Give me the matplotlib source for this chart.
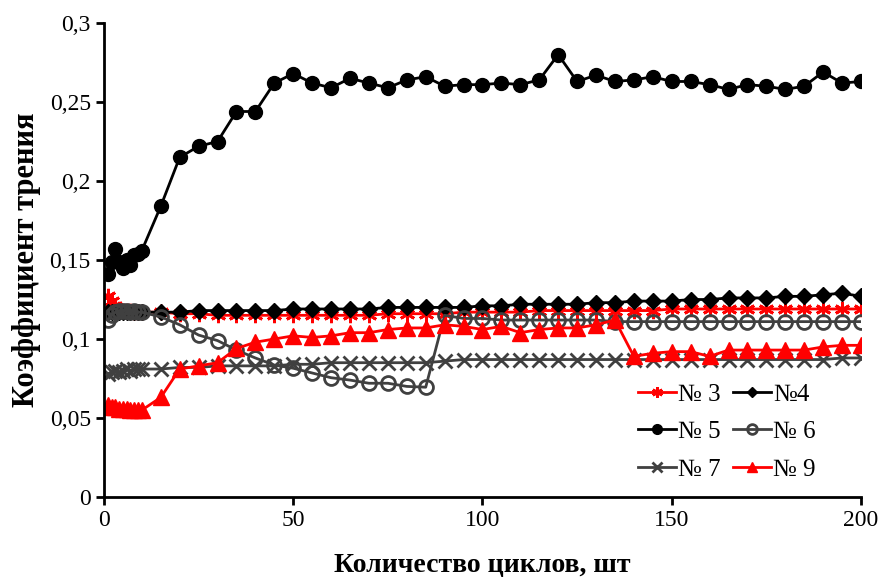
import matplotlib
matplotlib.use('Agg')
import matplotlib.pyplot as plt

plt.rcParams['font.family'] = ['Liberation Serif', 'DejaVu Serif']

# cycle numbers (x axis)
cycles = [1, 2, 3, 4, 5, 6, 7, 8, 9, 10,
          15, 20, 25, 30, 35, 40, 45, 50, 55, 60,
          65, 70, 75, 80, 85, 90, 95, 100, 105, 110,
          115, 120, 125, 130, 135, 140, 145, 150, 155, 160,
          165, 170, 175, 180, 185, 190, 195, 200]

# friction coefficient for each sample
s3 = [0.127, 0.124, 0.121, 0.119, 0.118, 0.118, 0.118, 0.117, 0.117, 0.117,
      0.117, 0.116, 0.116, 0.115, 0.115, 0.115, 0.115, 0.115, 0.115, 0.115,
      0.115, 0.115, 0.116, 0.116, 0.116, 0.116, 0.117, 0.117, 0.117, 0.117,
      0.118, 0.118, 0.118, 0.118, 0.118, 0.118, 0.118, 0.119, 0.119, 0.119,
      0.119, 0.119, 0.119, 0.119, 0.119, 0.119, 0.119, 0.119]
s4 = [0.117, 0.117, 0.117, 0.117, 0.117, 0.117, 0.117, 0.117, 0.117, 0.117,
      0.117, 0.117, 0.118, 0.118, 0.118, 0.118, 0.118, 0.119, 0.119, 0.119,
      0.119, 0.119, 0.120, 0.120, 0.120, 0.120, 0.120, 0.121, 0.121, 0.122,
      0.122, 0.122, 0.122, 0.123, 0.123, 0.124, 0.124, 0.124, 0.125, 0.125,
      0.126, 0.126, 0.126, 0.127, 0.127, 0.128, 0.129, 0.127]
s5 = [0.141, 0.149, 0.157, 0.149, 0.145, 0.150, 0.147, 0.153, 0.154, 0.156,
      0.184, 0.215, 0.222, 0.225, 0.244, 0.244, 0.262, 0.268, 0.262, 0.259,
      0.265, 0.262, 0.259, 0.264, 0.266, 0.260, 0.261, 0.261, 0.262, 0.261,
      0.264, 0.280, 0.263, 0.267, 0.263, 0.264, 0.266, 0.263, 0.263, 0.261,
      0.258, 0.261, 0.260, 0.258, 0.260, 0.269, 0.262, 0.263]
s6 = [0.112, 0.115, 0.117, 0.118, 0.118, 0.118, 0.117, 0.118, 0.117, 0.117,
      0.114, 0.109, 0.1025, 0.099, 0.093, 0.088, 0.0835, 0.0815, 0.0785, 0.0755,
      0.074, 0.072, 0.072, 0.070, 0.0695, 0.115, 0.113, 0.113, 0.112, 0.112,
      0.112, 0.112, 0.112, 0.112, 0.111, 0.111, 0.111, 0.111, 0.111, 0.111,
      0.111, 0.111, 0.111, 0.111, 0.111, 0.111, 0.111, 0.111]
s7 = [0.078, 0.079, 0.080, 0.079, 0.080, 0.081, 0.080, 0.081, 0.081, 0.081,
      0.081, 0.082, 0.082, 0.083, 0.083, 0.083, 0.083, 0.084, 0.084, 0.085,
      0.085, 0.085, 0.085, 0.085, 0.085, 0.086, 0.087, 0.087, 0.087, 0.087,
      0.087, 0.087, 0.087, 0.087, 0.087, 0.087, 0.087, 0.087, 0.087, 0.087,
      0.087, 0.087, 0.087, 0.087, 0.087, 0.087, 0.088, 0.088]
s9 = [0.058, 0.057, 0.057, 0.056, 0.056, 0.056, 0.055, 0.055, 0.055, 0.055,
      0.063, 0.081, 0.083, 0.085, 0.094, 0.098, 0.100, 0.102, 0.101, 0.102,
      0.104, 0.104, 0.106, 0.107, 0.107, 0.109, 0.108, 0.106, 0.108, 0.104,
      0.106, 0.107, 0.107, 0.109, 0.112, 0.089, 0.091, 0.092, 0.092, 0.089,
      0.093, 0.093, 0.093, 0.093, 0.093, 0.095, 0.096, 0.096]

y_ticks = [0, 0.05, 0.1, 0.15, 0.2, 0.25, 0.3]
y_labels = ['0', '0,05', '0,1', '0,15', '0,2', '0,25', '0,3']
x_ticks = [0, 50, 100, 150, 200]

RED = '#ff0000'
GRAY = '#404040'

fig = plt.figure(figsize=(8.79, 5.8), dpi=100)
ax = fig.add_axes([0.1183, 0.1431, 0.8612, 0.8172])

lw = 2.0
l3, = ax.plot(cycles, s3, color=RED, lw=lw, marker=(6, 2, 0), ms=11, mew=2,
              label='№ 3')
l4, = ax.plot(cycles, s4, color='black', lw=lw, marker='D', ms=8,
              label='№4')
l5, = ax.plot(cycles, s5, color='black', lw=lw, marker='o', ms=10,
              label='№ 5')
l6, = ax.plot(cycles, s6, color=GRAY, lw=lw, marker='o', ms=10, mew=2,
              mfc='none', label='№ 6')
l7, = ax.plot(cycles, s7, color=GRAY, lw=lw, marker='x', ms=10, mew=2,
              label='№ 7')
l9, = ax.plot(cycles, s9, color=RED, lw=lw, marker='^', ms=11,
              label='№ 9')

ax.set_xlim(0, 200)
ax.set_ylim(0, 0.3)
ax.set_xticks(x_ticks)
ax.set_yticks(y_ticks)
ax.set_yticklabels(y_labels)
ax.tick_params(labelsize=17, width=2, length=6, direction='out')

for side in ['top', 'right']:
    ax.spines[side].set_visible(False)
for side in ['left', 'bottom']:
    ax.spines[side].set_linewidth(2)

ax.set_xlabel('Количество циклов, шт', fontsize=20, fontweight='bold',
              labelpad=16)
ax.set_ylabel('Коэффициент трения', fontsize=22, fontweight='bold',
              labelpad=6)

# legend: rows are (3,4), (5,6), (7,9) -> column-major order
handles = [l3, l5, l7, l4, l6, l9]
ax.legend(handles=handles, labels=[h.get_label() for h in handles],
          ncol=2, loc='lower right', bbox_to_anchor=(0.97, -0.013),
          frameon=False, fontsize=18, markerscale=0.7,
          handlelength=1.5, handletextpad=0.1, columnspacing=0.5,
          labelspacing=0.6)

fig.savefig('out.png', dpi=100)
